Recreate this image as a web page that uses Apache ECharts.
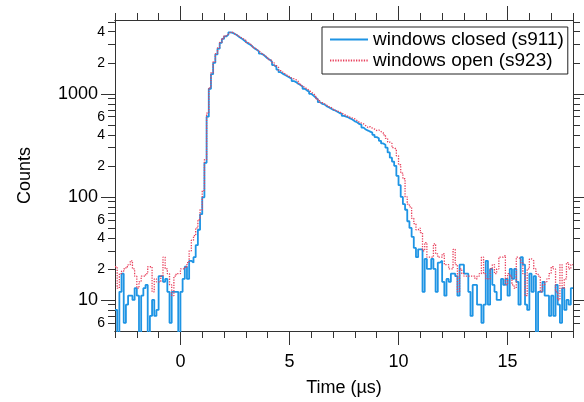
<!DOCTYPE html>
<html>
<head>
<meta charset="utf-8">
<script src="https://cdn.jsdelivr.net/npm/echarts@6/dist/echarts.min.js"></script>
<style>
  html, body { margin: 0; padding: 0; background: #fff; }
  #chart { width: 584px; height: 402px; }
</style>
</head>
<body>
<div id="chart"></div>
<script>
// histogram bins: 0.1 us wide, first bin starts at -3 us
const binStart = -3
const binWidth = 0.1
const xEnd = 18

// windows closed (s911), one value per bin
const closedCounts = [
  8, 4, 12, 18, 6, 9, 11, 11, 10, 13,
  11, 4, 11, 13, 14, 4, 7, 10, 7, 8,
  17, 17, 15, 16, 12, 6, 12, 12, 12, 4,
  12, 16, 21, 16, 24, 23, 26, 34, 48, 68,
  99, 214, 600, 1120, 1550, 2000, 2410, 2740, 3120, 3410,
  3600, 3750, 3950, 3900, 3800, 3700, 3550, 3450, 3330, 3200,
  3080, 3000, 2880, 2760, 2680, 2580, 2450, 2400, 2300, 2200,
  2140, 2050, 1900, 1820, 1720, 1620, 1560, 1520, 1480, 1440,
  1400, 1330, 1300, 1250, 1220, 1180, 1120, 1080, 1050, 1000,
  960, 920, 880, 830, 800, 790, 760, 740, 720, 700,
  690, 670, 650, 640, 610, 600, 590, 575, 560, 540,
  530, 510, 500, 470, 450, 440, 430, 420, 400, 380,
  370, 350, 330, 320, 300, 270, 240, 220, 200, 160,
  130, 100, 85, 75, 58, 50, 41, 32, 26, 31,
  31, 12, 25, 20, 20, 25, 20, 12, 23, 24,
  15, 11, 16, 15, 18, 18, 17, 11, 22, 22,
  18, 18, 12, 7, 14, 14, 9, 9, 6, 9,
  24, 9, 20, 14, 12, 10, 10, 16, 14, 16,
  11, 20, 16, 20, 15, 9, 26, 22, 9, 8,
  18, 12, 17, 4, 12, 12, 15, 11, 11, 7,
  11, 7, 14, 9, 6, 13, 8, 10, 9, 13,
]

// windows open (s923)
const openCounts = [
  21, 13, 18, 19, 20, 21, 22, 24, 20, 17,
  13, 15, 17, 17, 18, 21, 21, 12, 16, 15,
  15, 17, 26, 20, 18, 14, 11, 17, 18, 18,
  20, 20, 21, 23, 30, 38, 42, 50, 60, 75,
  115, 230, 650, 1150, 1600, 2050, 2450, 2800, 3150, 3450,
  3650, 3800, 3970, 3950, 3800, 3720, 3600, 3500, 3400, 3300,
  3150, 3050, 2950, 2800, 2700, 2600, 2500, 2400, 2330, 2250,
  2150, 2100, 2000, 1880, 1800, 1680, 1620, 1560, 1510, 1470,
  1420, 1400, 1370, 1320, 1260, 1200, 1150, 1120, 1080, 1040,
  1000, 960, 900, 860, 820, 800, 780, 750, 740, 710,
  690, 680, 670, 650, 630, 620, 600, 590, 580, 570,
  550, 530, 520, 510, 490, 470, 480, 465, 455, 440,
  445, 430, 420, 400, 370, 340, 330, 300, 290, 250,
  205, 170, 150, 100, 85, 80, 62, 55, 48, 50,
  45, 30, 36, 26, 26, 26, 35, 28, 26, 26,
  28, 22, 22, 20, 20, 31, 22, 12, 20, 18,
  17, 17, 17, 17, 17, 16, 17, 18, 26, 18,
  16, 16, 20, 22, 18, 20, 26, 26, 27, 14,
  18, 17, 14, 13, 26, 25, 23, 18, 11, 20,
  25, 24, 20, 18, 17, 12, 14, 15, 16, 18,
  21, 20, 12, 10, 22, 13, 16, 23, 20, 22,
]

// tick marks
const xMajorTicks = [0, 5, 10, 15]
const xMinorTicks = [-3, -2, -1, 0, 1, 2, 3, 4, 5, 6, 7, 8, 9, 10, 11, 12, 13, 14, 15, 16, 17, 18]
const yMajorTicks = [10, 100, 1000]
const yMinorTicks = [6, 7, 8, 9, 20, 30, 40, 50, 60, 70, 80, 90, 200, 300, 400, 500, 600, 700, 800, 900, 2000, 3000, 4000, 5000]
const yMinorLabels = [6, 20, 40, 60, 200, 400, 600, 2000, 4000]

const yMin = 5
const yMax = 5200

const font = "'Liberation Sans', Arial, sans-serif"
const axisColor = '#333'

// bin left edges -> step line points, plus closing point at the right edge
function toSteps(counts) {
  const pts = counts.map((v, i) => [+(binStart + i * binWidth).toFixed(2), v])
  pts.push([xEnd, counts[counts.length - 1]])
  return pts
}

function xAxisDef(position, ticks, len, withLabels) {
  return {
    type: 'value',
    position,
    min: binStart,
    max: xEnd,
    axisLine: { show: true, onZero: false, lineStyle: { color: axisColor, width: 1 } },
    axisTick: { show: true, customValues: ticks, length: len, lineStyle: { color: axisColor } },
    axisLabel: withLabels
      ? { show: true, customValues: xMajorTicks, fontSize: 18, color: '#000', fontFamily: font, margin: 22 }
      : { show: false },
    splitLine: { show: false },
  }
}

function yAxisDef(position, ticks, len, labels, labelSize, margin) {
  return {
    type: 'log',
    logBase: 10,
    position,
    min: yMin,
    max: yMax,
    axisLine: { show: true, onZero: false, lineStyle: { color: axisColor, width: 1 } },
    axisTick: { show: true, customValues: ticks, length: len, lineStyle: { color: axisColor } },
    axisLabel: labels
      ? {
          show: true,
          customValues: labels,
          fontSize: labelSize,
          color: '#000',
          fontFamily: font,
          margin,
          formatter: v => labelSize < 16 ? String(Math.round(v)).charAt(0) : String(Math.round(v)),
        }
      : { show: false },
    splitLine: { show: false },
    minorTick: { show: false },
  }
}

const chart = echarts.init(document.getElementById('chart'))

const leftMajor = yAxisDef('left', yMajorTicks, 14, yMajorTicks, 18, 17)
leftMajor.name = 'Counts'
leftMajor.nameLocation = 'middle'
leftMajor.nameGap = 81
leftMajor.nameTextStyle = { fontSize: 18, color: '#000', fontFamily: font }

const bottomMajor = xAxisDef('bottom', xMajorTicks, 14, true)
bottomMajor.name = 'Time (µs)'
bottomMajor.nameLocation = 'middle'
bottomMajor.nameGap = 48
bottomMajor.nameTextStyle = { fontSize: 18, color: '#000', fontFamily: font }

const option = {
  animation: false,
  backgroundColor: '#fff',
  textStyle: { fontFamily: font },
  grid: { left: 115, right: 11, top: 20, bottom: 67, containLabel: false },
  legend: {
    left: 322,
    top: 27,
    orient: 'vertical',
    backgroundColor: '#fff',
    borderColor: '#222',
    borderWidth: 1,
    borderRadius: 0,
    padding: [3, 4, 4, 7],
    itemGap: 2,
    itemWidth: 38,
    itemHeight: 14,
    itemStyle: { opacity: 0 },
    textStyle: { fontSize: 19, color: '#000', fontFamily: font },
    data: ['windows closed (s911)', 'windows open (s923)'],
  },
  xAxis: [
    bottomMajor,
    xAxisDef('bottom', xMinorTicks, 7, false),
    xAxisDef('top', xMajorTicks, 14, false),
    xAxisDef('top', xMinorTicks, 7, false),
  ],
  yAxis: [
    leftMajor,
    yAxisDef('left', yMinorTicks, 7, yMinorLabels, 14, 10),
    yAxisDef('right', yMajorTicks, 14, null),
    yAxisDef('right', yMinorTicks, 7, null),
  ],
  series: [
    {
      name: 'windows closed (s911)',
      type: 'line',
      step: 'end',
      xAxisIndex: 0,
      yAxisIndex: 0,
      showSymbol: false,
      symbol: 'none',
      clip: true,
      lineStyle: { color: '#1e94e4', width: 1.8 },
      itemStyle: { color: '#1e94e4' },
      data: toSteps(closedCounts),
      z: 2,
    },
    {
      name: 'windows open (s923)',
      type: 'line',
      step: 'end',
      xAxisIndex: 0,
      yAxisIndex: 0,
      showSymbol: false,
      symbol: 'none',
      clip: true,
      lineStyle: { color: '#e8405c', width: 1.3, type: [1.3, 1.3] },
      itemStyle: { color: '#e8405c' },
      data: toSteps(openCounts),
      z: 3,
    },
  ],
}

chart.setOption(option)
</script>
</body>
</html>
